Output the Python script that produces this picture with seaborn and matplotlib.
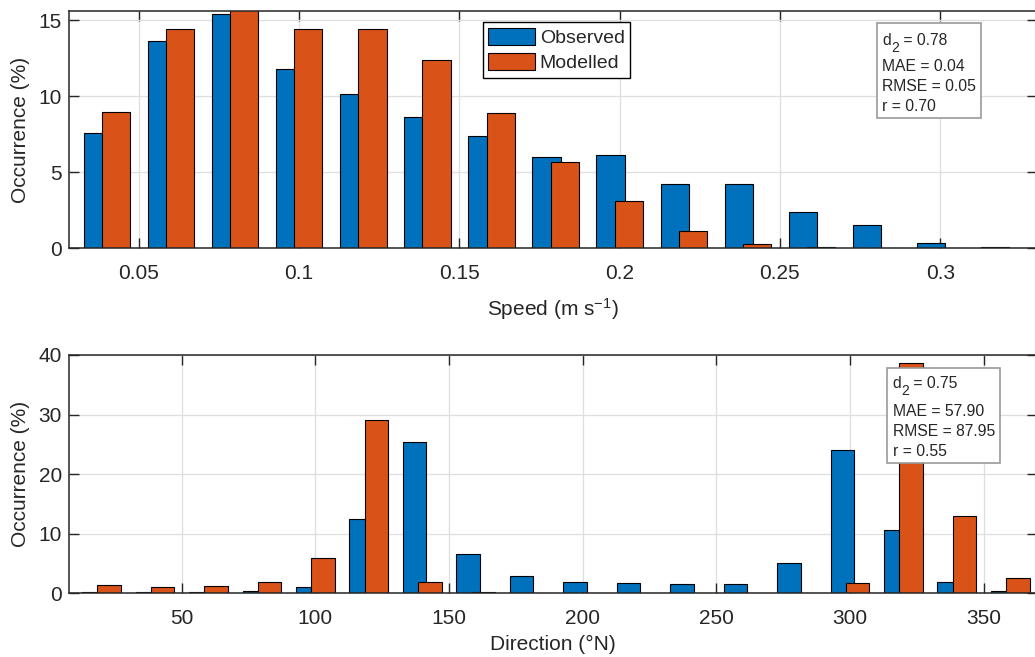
import numpy as np
import matplotlib
matplotlib.use('Agg')
import matplotlib.pyplot as plt
import seaborn as sns
from matplotlib.patches import Patch, Rectangle
from matplotlib.transforms import offset_copy

# ---------------- data ----------------
speed_bins = [0.04, 0.06, 0.08, 0.10, 0.12, 0.14, 0.16, 0.18, 0.20, 0.22, 0.24, 0.26, 0.28, 0.30, 0.32]
speed_obs = [7.57, 13.64, 15.42, 11.80, 10.13, 8.64, 7.39, 5.99, 6.12, 4.23, 4.23, 2.41, 1.51, 0.33, 0.07]
speed_mod = [8.97, 14.43, 15.80, 14.41, 14.43, 12.37, 8.90, 5.70, 3.11, 1.16, 0.26, 0.07, 0.0, 0.0, 0.0]

dir_bins = [20, 40, 60, 80, 100, 120, 140, 160, 180, 200, 220, 240, 260, 280, 300, 320, 340, 360]
dir_obs = [0.28, 0.28, 0.28, 0.40, 1.06, 12.48, 25.35, 6.55, 2.90, 1.85, 1.68, 1.57, 1.57, 5.15, 24.10, 10.60, 1.85, 0.40]
dir_mod = [1.40, 1.06, 1.18, 1.85, 5.88, 29.10, 1.85, 0.28, 0.10, 0.0, 0.0, 0.05, 0.0, 0.0, 1.68, 38.60, 13.00, 2.52]

series_names = ['Observed', 'Modelled']
speed_ticks = [0.05, 0.10, 0.15, 0.20, 0.25, 0.30]
speed_ticklabels = ['0.05', '0.1', '0.15', '0.2', '0.25', '0.3']
speed_yticks = [0, 5, 10, 15]
dir_ticks = [50, 100, 150, 200, 250, 300, 350]
dir_yticks = [0, 10, 20, 30, 40]
speed_d2 = '0.78'
speed_stats = ['MAE = 0.04', 'RMSE = 0.05', 'r = 0.70']
dir_d2 = '0.75'
dir_stats = ['MAE = 57.90', 'RMSE = 87.95', 'r = 0.55']

# ---------------- style ----------------
sns.set_theme(style='ticks')
plt.rcParams['font.family'] = ['Liberation Sans', 'DejaVu Sans']
plt.rcParams['mathtext.fontset'] = 'custom'
plt.rcParams['mathtext.rm'] = 'Liberation Sans'
plt.rcParams['mathtext.it'] = 'Liberation Sans'
plt.rcParams['mathtext.bf'] = 'Liberation Sans'

BLUE = '#0072BD'
ORANGE = '#D95319'
AX_COL = '#262626'

fig = plt.figure(figsize=(10.35, 6.57), dpi=100)
W, H = 1035.0, 657.0
ax1 = fig.add_axes([69 / W, 1 - 248.3 / H, (1037 - 69) / W, (248.3 - 11) / H])
ax2 = fig.add_axes([69 / W, 1 - 593.3 / H, (1037 - 69) / W, (593.3 - 355) / H])


def draw(ax, centers, obs, mod, step):
    centers = np.asarray(centers, dtype=float)
    off = 0.143 * step
    sns.barplot(x=centers - off, y=obs, native_scale=True, width=0.44, color=BLUE,
                saturation=1, edgecolor='black', linewidth=0.8, errorbar=None, ax=ax)
    sns.barplot(x=centers + off, y=mod, native_scale=True, width=0.44, color=ORANGE,
                saturation=1, edgecolor='black', linewidth=0.8, errorbar=None, ax=ax)


draw(ax1, speed_bins, speed_obs, speed_mod, 0.02)
draw(ax2, dir_bins, dir_obs, dir_mod, 20)

ax1.set_xlim(0.0282, 0.3302)
ax1.set_ylim(0, 15.6)
ax1.set_xticks(speed_ticks)
ax1.set_xticklabels(speed_ticklabels)
ax1.set_yticks(speed_yticks)
ax1.set_xlabel('Speed (m s$^{-1}$)', fontsize=15, color=AX_COL, labelpad=10)

ax2.set_xlim(7.8, 370.0)
ax2.set_ylim(0, 40)
ax2.set_xticks(dir_ticks)
ax2.set_yticks(dir_yticks)
ax2.set_xlabel('Direction (°N)', fontsize=15, color=AX_COL, labelpad=5)

for ax in (ax1, ax2):
    ax.set_ylabel('Occurrence (%)', fontsize=15, color=AX_COL, labelpad=6)
    ax.set_axisbelow(True)
    ax.grid(True, color='#dedede', linewidth=0.9)
    ax.tick_params(direction='in', top=True, right=True, length=7, width=1.0,
                   colors=AX_COL, labelsize=15, labelcolor=AX_COL)
    ax.tick_params(axis='x', pad=11)
    ax.tick_params(axis='y', pad=5)
    for s in ax.spines.values():
        s.set_visible(True)
        s.set_color(AX_COL)
        s.set_linewidth(1.1)
    ax.set_facecolor('white')

# legend
handles = [Patch(facecolor=BLUE, edgecolor='black', linewidth=0.8),
           Patch(facecolor=ORANGE, edgecolor='black', linewidth=0.8)]
leg = ax1.legend(handles, series_names, loc='upper left',
                 bbox_to_anchor=(482.7 / W, 1 - 22.3 / H), bbox_transform=fig.transFigure,
                 borderaxespad=0, fontsize=14, frameon=True, fancybox=False,
                 framealpha=1, edgecolor='black', handlelength=2.4, handleheight=1.0,
                 handletextpad=0.25, borderpad=0.28, labelspacing=0.3)
leg.get_frame().set_linewidth(1.0)
for t in leg.get_texts():
    t.set_color(AX_COL)


# stat boxes (box drawn as a rectangle, each line placed on its own baseline)
def stat_box(d2_value, lines, box_px, text_x, baselines):
    x0, y0, x1, y1 = box_px
    fig.patches.append(Rectangle((x0 / W, 1 - y1 / H), (x1 - x0) / W, (y1 - y0) / H,
                                 transform=fig.transFigure, facecolor='white',
                                 edgecolor='#9a9a9a', linewidth=1.2, zorder=5))
    fs = 11.3
    yb0 = baselines[0]
    # d with a subscript 2, MATLAB-style
    fig.text(text_x / W, 1 - yb0 / H, 'd', ha='left', va='baseline',
             fontsize=fs, color=AX_COL, zorder=6)
    fig.text((text_x + 8.7) / W, 1 - (yb0 + 6.7) / H, '2', ha='left', va='baseline',
             fontsize=10, color=AX_COL, zorder=6)
    fig.text((text_x + 16.4) / W, 1 - yb0 / H, ' = ' + d2_value, ha='left', va='baseline',
             fontsize=fs, color=AX_COL, zorder=6)
    for txt, yb in zip(lines, baselines[1:]):
        fig.text(text_x / W, 1 - yb / H, txt, ha='left', va='baseline',
                 fontsize=fs, color=AX_COL, zorder=6)


stat_box(speed_d2, speed_stats, (876.7, 23, 981, 117.7), 882.3, [45, 70.7, 90.7, 110.7])
stat_box(dir_d2, dir_stats, (887, 367.7, 1000, 463.3), 892.7, [388.3, 415.7, 435.7, 455.7])

fig.savefig('out.png', dpi=100, facecolor='white')
